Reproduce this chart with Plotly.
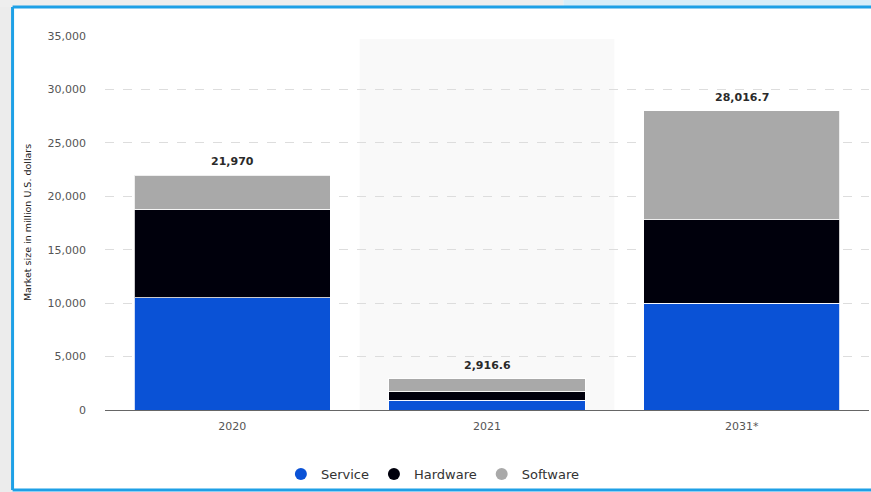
import plotly.graph_objects as go

years = ["2020", "2021", "2031*"]
service = [10500, 900, 10000]
hardware = [8300, 850, 7800]
software = [3170, 1166.6, 10216.7]
y_ticks = [0, 5000, 10000, 15000, 20000, 25000, 30000, 35000]
y_tick_labels = ["0", "5,000", "10,000", "15,000", "20,000", "25,000", "30,000", "35,000"]
y_title = "Market size in million U.S. dollars"

series = [
    ("Service", service, "#0a52d6"),
    ("Hardware", hardware, "#00000c"),
    ("Software", software, "#a9a9a9"),
]

FONT = "DejaVu Sans"

fig = go.Figure()
for name, vals, col in series:
    fig.add_trace(go.Bar(
        x=years, y=vals, name=name, marker_color=col,
        marker_line=dict(color="rgba(255,255,255,0.8)", width=1),
        showlegend=False, width=0.77,
    ))
for name, vals, col in series:
    fig.add_trace(go.Scatter(
        x=[years[0]], y=[None], mode="markers", name=name,
        marker=dict(color=col, size=13, symbol="circle"),
    ))

totals = [s + h + w for s, h, w in zip(service, hardware, software)]
for i, t in enumerate(totals):
    t = round(t, 1)
    txt = f"{t:,.0f}" if t == int(t) else f"{t:,.1f}"
    fig.add_annotation(x=i, y=t, text=txt, showarrow=False, yanchor="bottom",
                       yshift=5, font=dict(family=FONT, size=11, color="#2a2a2a", weight="bold"))

# y-axis title as a rotated annotation
fig.add_annotation(xref="paper", yref="paper", x=-0.102, y=0.5, text=y_title,
                   textangle=-90, showarrow=False, xanchor="center", yanchor="middle",
                   font=dict(family=FONT, size=9.5, color="#222222"))

# highlighted category band
fig.add_shape(type="rect", xref="x", yref="paper", x0=0.5, x1=1.5, y0=0, y1=0.992,
              fillcolor="#f9f9f9", line_width=0, layer="below")

# window frame decorations
fig.add_shape(type="rect", xref="paper", yref="paper", x0=-0.2, x1=-0.121, y0=-0.3, y1=1.2,
              fillcolor="#ececec", line_width=0, layer="below")
fig.add_shape(type="rect", xref="paper", yref="paper", x0=-0.2, x1=0.6, y0=1.0775, y1=1.2,
              fillcolor="#eeeeee", line_width=0, layer="below")
fig.add_shape(type="rect", xref="paper", yref="paper", x0=0.6, x1=1.1, y0=1.0775, y1=1.2,
              fillcolor="#d8eef9", line_width=0, layer="below")
fig.add_shape(type="line", xref="paper", yref="paper", x0=-0.121, x1=-0.121, y0=-0.214, y1=1.0775,
              line=dict(color="#1ea0e6", width=3))
fig.add_shape(type="line", xref="paper", yref="paper", x0=-0.121, x1=1.1, y0=1.0775, y1=1.0775,
              line=dict(color="#1ea0e6", width=3))
fig.add_shape(type="line", xref="paper", yref="paper", x0=-0.121, x1=1.1, y0=-0.214, y1=-0.214,
              line=dict(color="#1ea0e6", width=3))

fig.update_layout(
    width=871, height=492,
    margin=dict(l=105, r=2, t=36, b=82, autoexpand=False),
    barmode="stack",
    paper_bgcolor="white", plot_bgcolor="white",
    font=dict(family=FONT, size=11, color="#555555"),
    legend=dict(orientation="h", xref="container", x=0.497, xanchor="center",
                y=-0.171, yanchor="middle", traceorder="normal",
                bgcolor="rgba(0,0,0,0)",
                font=dict(family=FONT, size=13, color="#333333"),
                itemsizing="constant"),
    xaxis=dict(type="category", range=[-0.5, 2.5], showgrid=False, showline=True,
               linecolor="#666666", linewidth=1,
               tickfont=dict(family=FONT, size=11, color="#555555"), ticks="", ticklabelstandoff=6,
               automargin=False),
    yaxis=dict(range=[0, 35000], tickvals=y_ticks, ticktext=y_tick_labels,
               showgrid=True, gridcolor="#dddddd", griddash="dash", gridwidth=1,
               zeroline=False, ticklabelstandoff=18, automargin=False,
               tickfont=dict(family=FONT, size=11, color="#555555")),
)

fig.write_html("out.html", config={"displayModeBar": False},
               post_script="document.body.style.margin='0px';document.body.style.overflow='hidden';")
